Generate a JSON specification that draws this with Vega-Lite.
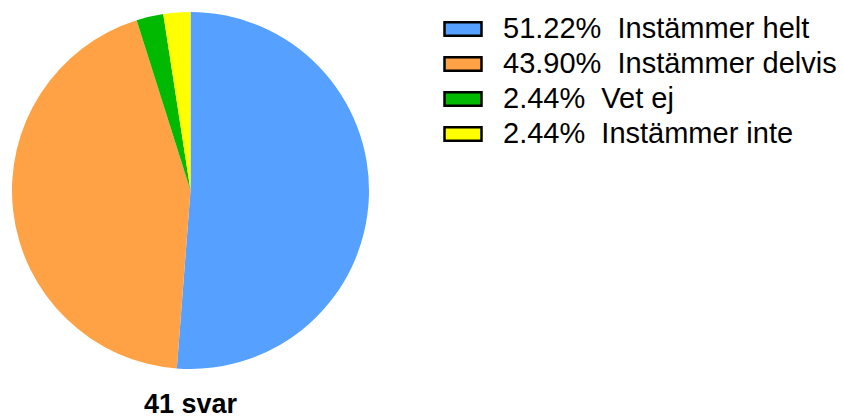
{
  "$schema": "https://vega.github.io/schema/vega-lite/v6.json",
  "width": 357,
  "height": 357,
  "autosize": {"type": "none"},
  "padding": {"left": 12, "top": 12, "right": 474, "bottom": 49},
  "background": "white",
  "title": {
    "text": "41 svar",
    "orient": "bottom",
    "anchor": "middle",
    "font": "Liberation Sans",
    "fontSize": 27,
    "fontWeight": "bold",
    "color": "black",
    "offset": 23
  },
  "data": {
    "values": [
      {"label": "51.22%\u00a0 Instämmer helt", "count": 21, "rank": 1},
      {"label": "43.90%\u00a0 Instämmer delvis", "count": 18, "rank": 2},
      {"label": "2.44%\u00a0 Vet ej", "count": 1, "rank": 3},
      {"label": "2.44%\u00a0 Instämmer inte", "count": 1, "rank": 4}
    ]
  },
  "mark": {"type": "arc", "stroke": null},
  "encoding": {
    "theta": {"field": "count", "type": "quantitative", "stack": true},
    "order": {"field": "rank", "type": "quantitative"},
    "color": {
      "field": "label",
      "type": "nominal",
      "sort": ["51.22%\u00a0 Instämmer helt", "43.90%\u00a0 Instämmer delvis", "2.44%\u00a0 Vet ej", "2.44%\u00a0 Instämmer inte"],
      "scale": {
        "domain": ["51.22%\u00a0 Instämmer helt", "43.90%\u00a0 Instämmer delvis", "2.44%\u00a0 Vet ej", "2.44%\u00a0 Instämmer inte"],
        "range": ["#56A0FF", "#FFA245", "#00B900", "#FFFF00"]
      },
      "legend": {
        "title": null,
        "orient": "none",
        "legendX": 431,
        "legendY": -3,
        "padding": 0,
        "symbolType": "M-1,-0.36H1V0.36H-1Z",
        "symbolSize": 1369,
        "symbolStrokeColor": "black",
        "symbolStrokeWidth": 2.5,
        "symbolOpacity": 1,
        "symbolFillOpacity": 1,
        "labelFont": "Liberation Sans",
        "labelFontSize": 29,
        "labelColor": "black",
        "labelLimit": 500,
        "labelOffset": 20,
        "rowPadding": -3
      }
    }
  },
  "config": {"view": {"stroke": null}}
}
